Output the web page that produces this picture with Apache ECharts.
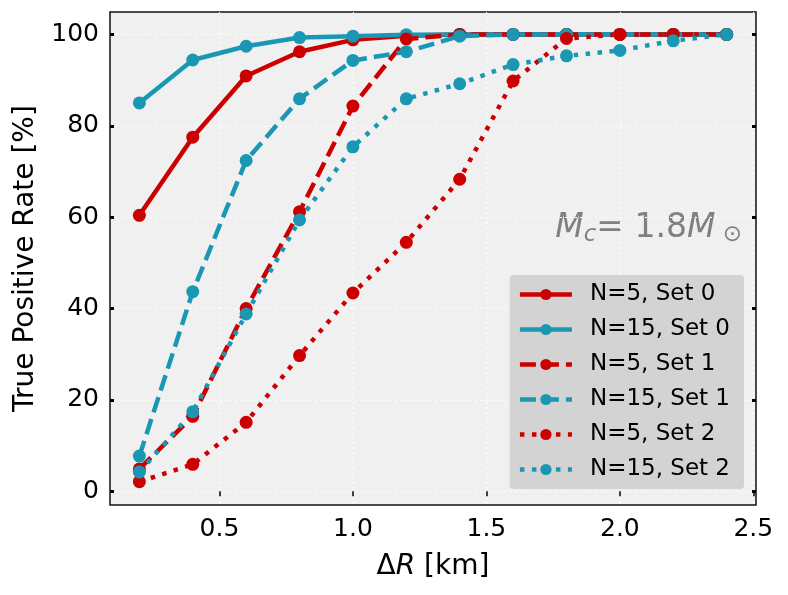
<!DOCTYPE html>
<html>
<head>
<meta charset="utf-8">
<script src="https://cdn.jsdelivr.net/npm/echarts@6/dist/echarts.min.js"></script>
<style>
  html, body { margin: 0; padding: 0; background: #fff; }
  #chart { width: 788px; height: 595px; }
</style>
</head>
<body>
<div id="chart"></div>
<script>
// 横轴: ΔR [km]
var dR = [0.2, 0.4, 0.6, 0.8, 1.0, 1.2, 1.4, 1.6, 1.8, 2.0, 2.2, 2.4];
var xTicks = [0.5, 1.0, 1.5, 2.0, 2.5];
var yTicks = [0, 20, 40, 60, 80, 100];

// 各组的真阳性率 (%)
var n5set0 = [60.4, 77.5, 90.9, 96.2, 98.8, 99.7, 100, 100, 100, 100, 100, 100];
var n15set0 = [85.0, 94.4, 97.4, 99.3, 99.6, 99.9, 100, 100, 100, 100, 100, 100];
var n5set1 = [4.9, 16.4, 40.0, 61.2, 84.3, 99.0, 100, 100, 100, 100, 100, 100];
var n15set1 = [7.7, 43.7, 72.4, 85.9, 94.3, 96.2, 99.6, 100, 100, 100, 100, 100];
var n5set2 = [2.1, 5.9, 15.1, 29.7, 43.4, 54.5, 68.3, 89.8, 99.1, 100, 100, 100];
var n15set2 = [4.2, 17.4, 38.8, 59.4, 75.4, 85.9, 89.2, 93.4, 95.3, 96.5, 98.6, 100];

var RED = '#cc0000';
var TEAL = '#1a98b3';
var FONT = 'DejaVu Sans';

function pairs(vals) {
  return dR.map(function (x, i) { return [x, vals[i]]; });
}

function mkSeries(name, vals, color, dash) {
  return {
    name: name,
    type: 'line',
    data: pairs(vals),
    symbol: 'circle',
    symbolSize: 13,
    itemStyle: { color: color },
    lineStyle: { color: color, width: 4.5, type: dash, cap: 'butt' },
    emphasis: { disabled: true },
    z: 3
  };
}

var chart = echarts.init(document.getElementById('chart'));

var option = {
  backgroundColor: '#ffffff',
  animation: false,
  textStyle: { fontFamily: FONT },
  grid: {
    left: 110, right: 32, top: 12, bottom: 90,
    show: true,
    backgroundColor: '#f0f0f0',
    borderColor: '#111',
    borderWidth: 1.5
  },
  xAxis: {
    type: 'value',
    min: 0.09, max: 2.51,
    name: '{d|Δ}{i|R}{d| [km]}',
    nameLocation: 'middle',
    nameGap: 48,
    nameTextStyle: {
      rich: {
        d: { fontSize: 28, fontFamily: FONT, color: '#000' },
        i: { fontSize: 28, fontFamily: FONT, fontStyle: 'italic', color: '#000' }
      }
    },
    axisLine: { show: false },
    axisTick: { show: true, customValues: xTicks, length: 5, lineStyle: { color: '#000', width: 1.5 } },
    axisLabel: {
      customValues: xTicks, fontSize: 25, color: '#000', margin: 12,
      formatter: function (v) { return v.toFixed(1); }
    },
    splitLine: { show: true, lineStyle: { color: '#ffffff', type: [2, 3], width: 1.2 } }
  },
  yAxis: [{
    type: 'value',
    min: -3, max: 104.9,
    name: 'True Positive Rate [%]',
    nameLocation: 'middle',
    nameGap: 70,
    nameTextStyle: { fontSize: 28, color: '#000', fontFamily: FONT },
    axisLine: { show: false },
    axisTick: { show: true, customValues: yTicks, length: 4, inside: true, lineStyle: { color: '#000', width: 3 } },
    axisLabel: { customValues: yTicks, fontSize: 25, color: '#000', margin: 11 },
    splitLine: { show: true, lineStyle: { color: '#ffffff', type: [2, 3], width: 1.2 } }
  }, {
    type: 'value',
    position: 'right',
    min: -3, max: 104.9,
    axisLine: { show: false },
    axisTick: { show: true, customValues: yTicks, length: 4, inside: true, lineStyle: { color: '#000', width: 3 } },
    axisLabel: { show: false },
    splitLine: { show: false }
  }],
  legend: {
    orient: 'vertical',
    right: 44,
    top: 275,
    backgroundColor: '#d3d3d3',
    borderRadius: 4,
    padding: [8, 14, 8, 8],
    itemWidth: 52,
    itemHeight: 14,
    itemGap: 12,
    lineStyle: { width: 4.5 },
    textStyle: { fontSize: 23, lineHeight: 23, color: '#000', fontFamily: FONT, padding: [0, 0, 0, 13] },
    data: ['N=5, Set 0', 'N=15, Set 0', 'N=5, Set 1', 'N=15, Set 1', 'N=5, Set 2', 'N=15, Set 2']
  },
  graphic: [{
    type: 'text',
    right: 46,
    top: 212,
    style: {
      text: '{i|M}{s|c}{n|= 1.8}{i|M}{s| ⊙}',
      rich: {
        i: { fontSize: 33, fontStyle: 'italic', fill: '#808080', fontFamily: FONT },
        n: { fontSize: 33, fill: '#808080', fontFamily: FONT },
        s: { fontSize: 23, fontStyle: 'italic', fill: '#808080', fontFamily: FONT, verticalAlign: 'bottom', padding: [14, 0, 0, 0] }
      }
    }
  }],
  series: [
    mkSeries('N=5, Set 0', n5set0, RED, 'solid'),
    mkSeries('N=15, Set 0', n15set0, TEAL, 'solid'),
    mkSeries('N=5, Set 1', n5set1, RED, [16, 7]),
    mkSeries('N=15, Set 1', n15set1, TEAL, [16, 7]),
    mkSeries('N=5, Set 2', n5set2, RED, [4.5, 7.5]),
    mkSeries('N=15, Set 2', n15set2, TEAL, [4.5, 7.5])
  ]
};

chart.setOption(option);
</script>
</body>
</html>
